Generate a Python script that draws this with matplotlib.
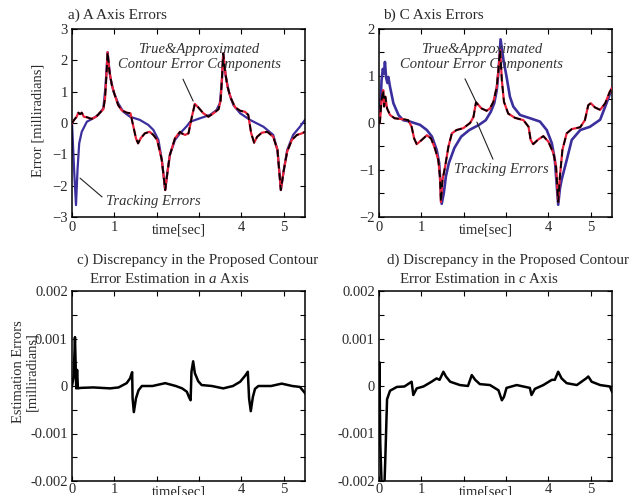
import numpy as np
import matplotlib
matplotlib.use("Agg")
import matplotlib.pyplot as plt

# Fuente tipo Times para todo el documento
plt.rcParams["font.family"] = ["Liberation Serif", "DejaVu Serif"]
plt.rcParams["mathtext.fontset"] = "custom"
plt.rcParams["mathtext.rm"] = "Liberation Serif"
plt.rcParams["mathtext.it"] = "Liberation Serif:italic"
plt.rcParams["font.size"] = 10.5

# ─── DATOS ──────────────────────────────────────────────────────────────────
# a) eje A: error de seguimiento y componente del error de contorno [mrad]
t_a_trk = [0, 0.05, 0.094, 0.13, 0.17, 0.23, 0.35, 0.5, 0.62, 0.74,
           0.79, 0.84, 0.9, 0.98, 1.09, 1.21, 1.37, 1.6, 1.8, 1.92,
           2.04, 2.12, 2.2, 2.25, 2.31, 2.43, 2.55, 2.71, 2.79, 3.02,
           3.26, 3.41, 3.49, 3.54, 3.57, 3.63, 3.71, 3.81, 3.97, 4.2,
           4.52, 4.75, 4.85, 4.93, 5.0, 5.08, 5.22, 5.38, 5.5]
e_a_trk = [0, -1.5, -2.62, -1.5, -0.65, -0.28, 0.04, 0.15, 0.26, 0.47,
           1.16, 2.26, 1.48, 1.0, 0.63, 0.36, 0.2, 0.1, -0.06, -0.22,
           -0.54, -1.18, -2.14, -1.6, -1.02, -0.54, -0.33, -0.1, 0.04, 0.15,
           0.26, 0.41, 0.63, 1.37, 2.22, 1.48, 0.95, 0.57, 0.31, 0.1,
           -0.12, -0.38, -0.86, -2.14, -1.5, -0.86, -0.38, -0.12, 0.1]

t_a_cont = [0, 0.05, 0.11, 0.15, 0.19, 0.23, 0.28, 0.36, 0.46, 0.57,
            0.66, 0.74, 0.78, 0.82, 0.84, 0.88, 0.94, 1.01, 1.09, 1.17,
            1.29, 1.38, 1.45, 1.51, 1.56, 1.62, 1.72, 1.83, 1.92, 2.01,
            2.12, 2.2, 2.25, 2.31, 2.43, 2.55, 2.59, 2.67, 2.75, 2.83,
            2.9, 2.98, 3.1, 3.22, 3.34, 3.46, 3.51, 3.55, 3.57, 3.61,
            3.67, 3.75, 3.85, 3.97, 4.08, 4.16, 4.23, 4.3, 4.37, 4.48,
            4.61, 4.75, 4.85, 4.93, 5.0, 5.08, 5.19, 5.31, 5.43, 5.5]
e_a_cont = [0, 0.1, 0.2, 0.33, 0.28, 0.33, 0.2, 0.18, 0.13, 0.2,
            0.33, 0.44, 0.79, 1.69, 2.26, 1.69, 1.21, 0.89, 0.57, 0.41,
            0.33, 0.31, -0.12, -0.49, -0.65, -0.49, -0.33, -0.28, -0.38, -0.54,
            -1.18, -2.14, -1.6, -1.02, -0.49, -0.28, -0.33, -0.38, -0.33, 0.2,
            0.61, 0.5, 0.31, 0.2, 0.31, 0.44, 0.73, 1.69, 2.22, 1.69,
            1.16, 0.79, 0.5, 0.39, 0.36, 0.26, -0.33, -0.63, -0.44, -0.31,
            -0.28, -0.44, -0.86, -2.14, -1.5, -0.91, -0.54, -0.38, -0.33, -0.28]

# b) eje C
t_b_trk = [0, 0.03, 0.06, 0.09, 0.12, 0.14, 0.17, 0.2, 0.22, 0.26,
           0.34, 0.46, 0.57, 0.73, 0.97, 1.13, 1.25, 1.36, 1.42, 1.48,
           1.53, 1.58, 1.65, 1.78, 1.94, 2.13, 2.36, 2.52, 2.64, 2.72,
           2.78, 2.83, 2.87, 2.94, 3.01, 3.09, 3.17, 3.33, 3.57, 3.8,
           3.96, 4.08, 4.15, 4.23, 4.27, 4.31, 4.37, 4.43, 4.55, 4.75,
           4.98, 5.22, 5.37, 5.5]
e_b_trk = [0, 0.3, 0.9, 1.15, 1.05, 1.3, 0.95, 0.85, 0.98, 0.77,
           0.42, 0.17, 0.06, 0.03, -0.04, -0.15, -0.29, -0.57, -0.85, -1.72,
           -1.49, -1.13, -0.85, -0.53, -0.29, -0.15, -0.04, 0.06, 0.24, 0.42,
           0.7, 1.2, 1.78, 1.33, 0.99, 0.56, 0.35, 0.17, 0.1, 0.03,
           -0.15, -0.43, -0.78, -1.74, -1.4, -1.21, -1.0, -0.79, -0.36, -0.15,
           -0.08, 0.07, 0.42, 0.74]

t_b_cont = [0, 0.02, 0.06, 0.1, 0.12, 0.15, 0.19, 0.26, 0.37, 0.57,
            0.69, 0.77, 0.83, 0.89, 1.01, 1.13, 1.23, 1.32, 1.4, 1.44,
            1.46, 1.5, 1.56, 1.64, 1.72, 1.83, 1.99, 2.15, 2.23, 2.29,
            2.42, 2.54, 2.62, 2.7, 2.78, 2.82, 2.86, 2.9, 2.95, 3.05,
            3.21, 3.41, 3.53, 3.58, 3.64, 3.76, 3.88, 4.0, 4.12, 4.18,
            4.23, 4.27, 4.33, 4.43, 4.55, 4.75, 4.86, 4.94, 5.0, 5.1,
            5.22, 5.34, 5.45, 5.5]
e_b_cont = [0, 0.0, 0.49, 0.7, 0.35, 0.56, 0.31, 0.17, 0.1, 0.08,
            0.06, -0.08, -0.33, -0.45, -0.36, -0.26, -0.33, -0.54, -0.79, -1.14,
            -1.68, -1.21, -0.93, -0.5, -0.22, -0.15, -0.11, 0.0, 0.13, 0.44,
            0.31, 0.26, 0.31, 0.45, 0.77, 1.13, 1.55, 0.91, 0.45, 0.2,
            0.11, 0.06, -0.08, -0.36, -0.45, -0.35, -0.28, -0.4, -0.65, -0.93,
            -1.68, -1.14, -0.57, -0.22, -0.13, -0.09, 0.06, 0.38, 0.42, 0.33,
            0.28, 0.42, 0.67, 0.74]

# c) y d) discrepancia de la estimación (en unidades de 1e-3)
t_c = [0, 0.04, 0.07, 0.09, 0.1, 0.12, 0.14, 0.2, 0.5, 0.9,
       1.1, 1.29, 1.37, 1.42, 1.43, 1.46, 1.51, 1.57, 1.65, 1.9,
       2.2, 2.45, 2.6, 2.71, 2.77, 2.8, 2.82, 2.86, 2.9, 2.98,
       3.06, 3.3, 3.57, 3.8, 3.97, 4.09, 4.15, 4.18, 4.22, 4.27,
       4.32, 4.4, 4.7, 4.95, 5.2, 5.38, 5.5]
d_c = [0, 0.2, 1.03, 0.3, -0.05, 0.34, -0.05, -0.04, -0.03, -0.05,
       -0.03, 0.06, 0.16, 0.29, -0.26, -0.55, -0.26, -0.09, 0.0, 0.0,
       0.06, 0.0, -0.05, -0.12, -0.25, -0.3, 0.3, 0.52, 0.27, 0.1,
       0.02, 0.0, -0.05, 0.0, 0.09, 0.22, 0.3, -0.26, -0.53, -0.23,
       -0.06, 0.0, 0.0, 0.05, 0.0, -0.02, -0.15]

t_d = [0, 0.01, 0.03, 0.07, 0.12, 0.15, 0.19, 0.26, 0.42, 0.6,
       0.77, 0.81, 0.89, 1.05, 1.24, 1.36, 1.43, 1.52, 1.58, 1.68,
       1.91, 2.1, 2.19, 2.27, 2.38, 2.62, 2.82, 2.9, 2.95, 3.01,
       3.25, 3.56, 3.6, 3.68, 3.88, 4.08, 4.15, 4.23, 4.31, 4.43,
       4.67, 4.89, 4.94, 5.02, 5.22, 5.45, 5.5]
d_d = [0, 0.5, -1.2, -2.3, -2.3, -1.5, -0.28, -0.1, -0.02, -0.01,
       0.09, -0.19, -0.05, -0.01, 0.09, 0.16, 0.13, 0.3, 0.2, 0.09,
       0.02, 0.0, 0.23, 0.13, 0.04, 0.02, -0.09, -0.3, -0.23, -0.04,
       0.02, -0.04, -0.19, -0.06, 0.02, 0.13, 0.13, 0.3, 0.16, 0.06,
       0.02, 0.16, 0.2, 0.09, 0.02, -0.01, -0.12]

x_ticks = [0, 1, 2, 3, 4, 5]
x_ticklabels = ["0", "1", "", "", "4", "5"]

C_TRK = "#3b2f9e"
C_TRUE = "#e8203a"
C_TXT = "#2a2a2a"

# ─── FIGURA ─────────────────────────────────────────────────────────────────
W, H = 630, 495
fig = plt.figure(figsize=(W / 100, H / 100), dpi=100)


def ejes(l, t, r, b):
    # posición en píxeles (izq, arriba, der, abajo)
    return fig.add_axes([l / W, 1 - b / H, (r - l) / W, (b - t) / H])


def estilo(ax, yticks, ylabels, ylim, pad=3, dy=-13):
    ax.set_xlim(0, 5.5)
    ax.set_ylim(*ylim)
    ax.set_xticks(x_ticks)
    ax.set_xticklabels(x_ticklabels)
    ax.set_yticks(yticks)
    ax.set_yticklabels(ylabels)
    ax.tick_params(direction="in", top=True, right=True, length=3.5,
                   width=0.8, pad=3, labelsize=10.5, labelcolor=C_TXT)
    ax.tick_params(axis="x", pad=pad)
    for s in ax.spines.values():
        s.set_linewidth(1.1)
    ax.annotate("time[sec]", xy=(2.52, 0), xycoords=("data", "axes fraction"),
                xytext=(0, dy), textcoords="offset pixels",
                ha="center", va="center", color=C_TXT)


def rotulo(ax, txt, xy_txt, p0, p1):
    ax.text(*xy_txt, txt, ha="center", va="center", style="italic",
            color="#333333", linespacing=1.2)
    ax.annotate("", xy=p1, xytext=p0,
                arrowprops=dict(arrowstyle="-", color="#222222", lw=0.8,
                                shrinkA=0, shrinkB=0))


ax_a = ejes(72, 29, 305, 217)
ax_b = ejes(379, 29, 612, 217)
ax_c = ejes(72, 291, 305, 481)
ax_d = ejes(379, 291, 612, 481)

# a) errores del eje A
ax_a.plot(t_a_trk, e_a_trk, color=C_TRK, lw=1.6, zorder=2)
ax_a.plot(t_a_cont, e_a_cont, color=C_TRUE, lw=1.6, zorder=3)
ax_a.plot(t_a_cont, e_a_cont, color="black", lw=1.3, ls=(0, (4, 2.5)), zorder=4)
estilo(ax_a, [-3, -2, -1, 0, 1, 2, 3],
       ["\u22123", "\u22122", "\u22121", "0", "1", "2", "3"], (-3, 3))
rotulo(ax_a, "True&Approximated\nContour Error Components",
       (3.0, 2.1), (2.62, 1.4), (2.86, 0.7))
rotulo(ax_a, "Tracking Errors", (1.91, -2.52), (0.19, -1.76), (0.71, -2.36))

# b) errores del eje C
ax_b.plot(t_b_trk, e_b_trk, color=C_TRK, lw=1.9, zorder=2)
ax_b.plot(t_b_cont, e_b_cont, color=C_TRUE, lw=1.6, zorder=3)
ax_b.plot(t_b_cont, e_b_cont, color="black", lw=1.3, ls=(0, (4, 2.5)), zorder=4)
estilo(ax_b, np.arange(-2, 2.01, 0.5),
       ["\u22122", "", "\u22121", "", "0", "", "1", "", "2"], (-2, 2))
rotulo(ax_b, "True&Approximated\nContour Error Components",
       (2.43, 1.40), (2.03, 0.94), (2.29, 0.45))
rotulo(ax_b, "Tracking Errors", (2.9, -0.98), (2.31, 0.02), (2.69, -0.77))

# c) y d) discrepancia
yt_cd = np.arange(-0.002, 0.00201, 0.0005)
yl_cd = ["-0.002", "", "-0.001", "", "0", "", "0.001", "", "0.002"]
ax_c.plot(t_c, np.array(d_c) * 1e-3, color="black", lw=1.8)
estilo(ax_c, yt_cd, yl_cd, (-0.002, 0.002), pad=1.5, dy=-11)
ax_d.plot(t_d, np.array(d_d) * 1e-3, color="black", lw=1.8)
estilo(ax_d, yt_cd, yl_cd, (-0.002, 0.002), pad=1.5, dy=-11)

# títulos y etiquetas
fig.text(68 / W, 1 - 15 / H, "a) A Axis Errors", ha="left", va="center",
         size=11, color=C_TXT)
fig.text(383 / W, 1 - 15 / H, "b) C Axis Errors", ha="left", va="center",
         size=11, color=C_TXT)
fig.text(77 / W, 1 - 260 / H, "c) Discrepancy in the Proposed Contour",
         ha="left", va="center", size=10.8, color=C_TXT)
fig.text(89 / W, 1 - 279 / H, r"Error Estimation in $\it{a}$ Axis",
         ha="left", va="center", size=10.8, color=C_TXT)
fig.text(387 / W, 1 - 260 / H, "d) Discrepancy in the Proposed Contour",
         ha="left", va="center", size=10.8, color=C_TXT)
fig.text(399 / W, 1 - 279 / H, r"Error Estimation in $\it{c}$ Axis",
         ha="left", va="center", size=10.8, color=C_TXT)

fig.text(38 / W, 1 - 120 / H, "Error [milliradians]", rotation=90,
         ha="center", va="center", color=C_TXT)
fig.text(25 / W, 1 - 372 / H, "Estimation Errors\n[milliradians]", rotation=90,
         ha="center", va="center", multialignment="center", color=C_TXT,
         linespacing=1.0)

fig.savefig("out.png", dpi=100)
